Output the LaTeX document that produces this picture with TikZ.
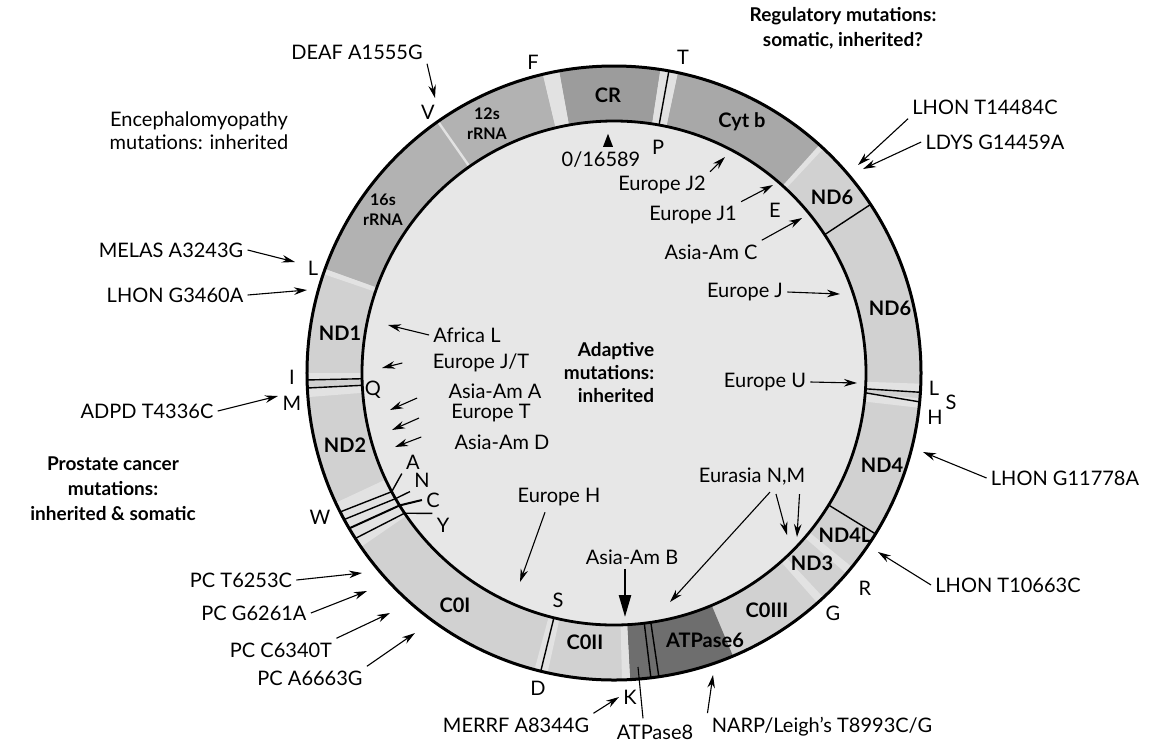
\documentclass[tikz,border=0pt]{standalone}
\usepackage{fontspec}
\setmainfont{Lato}
\usetikzlibrary{arrows.meta}

\definecolor{discgray}{gray}{0.905}
\definecolor{genegray}{gray}{0.82}
\definecolor{rnagray}{gray}{0.70}
\definecolor{crgray}{gray}{0.61}
\definecolor{cytgray}{gray}{0.66}
\definecolor{atpgray}{gray}{0.43}
\definecolor{trnagray}{gray}{0.885}

\newcommand{\ringin}{252}
\newcommand{\ringout}{307}
% one band of the ring, from angle #1 to angle #2
\newcommand{\genearc}[3]{%
  \fill[#3] (#1:\ringin) arc[start angle=#1,end angle=#2,radius=\ringin]
    -- (#2:\ringout) arc[start angle=#2,end angle=#1,radius=\ringout] -- cycle;}

\begin{document}
\begin{tikzpicture}[x=0.5pt,y=0.5pt,
    every node/.style={inner sep=2pt,font=\fontsize{10}{11.5}\selectfont},
    gene/.style={font=\bfseries\fontsize{10}{11.5}\selectfont},
    rrna/.style={font=\bfseries\fontsize{8}{10}\selectfont,align=center},
    region/.style={font=\bfseries\fontsize{9.5}{12.5}\selectfont,align=center},
    mut/.style={-{Stealth[length=6.5pt,width=3.8pt]},line width=0.55pt},
    bigmut/.style={-{Triangle[length=11pt,width=6pt]},line width=1.2pt},
    sep/.style={line width=0.7pt}]
  \useasboundingbox (-614,-368) rectangle (540,373);

  % the ring
  \fill[discgray] (0,0) circle[radius=\ringin];
  \genearc{0}{360}{genegray}
  \foreach \a/\b/\c in {47.5/78/cytgray, 81.3/100.3/crgray, 103.4/160.2/rnagray,
      273/292.8/atpgray}
    {\genearc{\a}{\b}{\c}}
  % tRNA gaps
  \foreach \a/\b in {47/48, 78/81.3, 100.3/103.4, 160.2/161.2, 180/181.3, 182.8/184.5,
      205/214.5, 255/257.5, 271.5/273, 311.5/313, 319.2/320.8, 353.5/355.3, 356.4/358}
    {\genearc{\a}{\b}{trnagray}}
  \draw[trnagray,line width=1.2pt] (125:\ringin) -- (125:\ringout);
  \foreach \a in {79.7, 181.3, 182.8, 256.2, 276.9, 278.4, 328.4, 33.3, 356.4}
    {\draw[sep] (\a:\ringin) -- (\a:\ringout);}
  \draw[sep] (355.5:\ringin) -- (354.6:\ringout);
  \draw[line width=1.4pt] (0,0) circle[radius=\ringin];
  \draw[line width=1.5pt] (0,0) circle[radius=\ringout];

  % genes
  \node[gene] (cr) at (-6,278) {CR};
  \node[rrna] (rrnaxii) at (-127,249) {12s\\rRNA};
  \node[rrna] (rrnaxvi) at (-231,163) {16s\\rRNA};
  \node[gene] (ndi) at (-274,40) {ND1};
  \node[gene] (ndii) at (-269,-72) {ND2};
  \node[gene] (coi) at (-159,-232) {C0I};
  \node[gene] (coii) at (-29,-269) {C0II};
  \node[gene] (atpvi) at (91,-267) {ATPase6};
  \node[gene] (coiii) at (153,-237) {C0III};
  \node[gene] (ndiii) at (198,-190) {ND3};
  \node[gene] (ndivl) at (231,-162) {ND4L};
  \node[gene] (ndiv) at (268,-92) {ND4};
  \node[gene] (ndv) at (276,65) {ND6};
  \node[gene] (ndvi) at (218,176) {ND6};
  \node[gene] (cytb) at (128,251) {Cyt b};

  % tRNA letters
  \node (trf) at (-81,311) {F};
  \node (trt) at (69,316) {T};
  \node (trv) at (-186,261) {V};
  \node (trp) at (44,226) {P};
  \node (trli) at (-301,105) {L};
  \node (tri) at (-322,-4) {I};
  \node (trm) at (-322,-30) {M};
  \node (trq) at (-241,-17) {Q};
  \node (trw) at (-294,-144) {W};
  \node (tra) at (-201,-89) {A};
  \node (trn) at (-192,-107) {N};
  \node (trc) at (-181,-127) {C};
  \node (try) at (-171,-152) {Y};
  \node (trsi) at (-56,-227) {S};
  \node (trd) at (-76,-315) {D};
  \node (trk) at (16,-324) {K};
  \node (trg) at (219,-240) {G};
  \node (trr) at (251,-215) {R};
  \node (trh) at (321,-44) {H};
  \node (trsii) at (337,-29) {S};
  \node (trlii) at (320,-15) {L};
  \node (tre) at (161,163) {E};

  \draw[sep] (206.9:\ringout) -- (208.1:\ringin) -- (tra.south west);
  \draw[sep] (208.5:\ringout) -- (209.9:\ringin) -- (trn.south west);
  \draw[line width=1pt] (210.4:\ringout) -- (211.7:\ringin) -- (trc.west);
  \draw[sep] (212.6:\ringout) -- (213.8:\ringin) -- (try.north west);

  % origin
  \node (zero) at (-13,213) {0/16589};
  \fill (zero.north) ++(2,1) -- ++(10,0) -- ++(-5,13) -- cycle;

  % region headings
  \node[region] (regul) at (229,345) {Regulatory mutations:\\somatic, inherited?};
  \node[align=center] (enceph) at (-415,242) {Encephalomyopathy\\mutations: inherited};
  \node[region] (prost) at (-501,-116) {Prostate cancer\\mutations:\\inherited \& somatic};
  \node[region,font=\bfseries\fontsize{9.5}{11.5}\selectfont,align=right] (adapt) at (-5,0)
    {Adaptive\\mutations:\\inherited};

  % disease mutations outside
  \node (deaf) at (-257,321) {DEAF A1555G};
  \node (lhoni) at (371,266) {LHON T14484C};
  \node (ldys) at (381,231) {LDYS G14459A};
  \node (lhonii) at (451,-105) {LHON G11778A};
  \node (lhoniii) at (394,-212) {LHON T10663C};
  \node (narp) at (208,-354) {NARP/Leigh's T8993C/G};
  \node (merrf) at (-98,-352) {MERRF A8344G};
  \node (atpviii) at (41,-359) {ATPase8};
  \node (pci) at (-373,-207) {PC T6253C};
  \node (pcii) at (-360,-240) {PC G6261A};
  \node (pciii) at (-333,-277) {PC C6340T};
  \node (pciv) at (-304,-305) {PC A6663G};
  \node (adpd) at (-467,-38) {ADPD T4336C};
  \node (lhoniv) at (-439,78) {LHON G3460A};
  \node (melas) at (-443,123) {MELAS A3243G};

  \coordinate (deafpt) at (-179,275);
  \coordinate (lhonipt) at (244,208);
  \coordinate (ldyspt) at (249,204);
  \coordinate (lhoniipt) at (309,-79);
  \coordinate (lhoniiipt) at (264,-179);
  \coordinate (narppt) at (99,-302);
  \coordinate (atpviiipt) at (24,-294);
  \coordinate (pcipt) at (-252,-200);
  \coordinate (pciipt) at (-247,-218);
  \coordinate (pciiipt) at (-224,-240);
  \coordinate (pcivpt) at (-199,-260);
  \coordinate (adpdpt) at (-336,-23);
  \coordinate (lhonivpt) at (-307,83);
  \coordinate (melaspt) at (-319,111);

  \draw[mut] (deaf.south east) -- (deafpt);
  \draw[mut] (lhoni.south west) -- (lhonipt);
  \draw[mut] (ldys.west) -- (ldyspt);
  \draw[mut] (lhonii.west) -- (lhoniipt);
  \draw[mut] (lhoniii.west) -- (lhoniiipt);
  \draw[mut] (narp.north west) -- (narppt);
  \draw[mut] (merrf.north east) -- (trk.west);
  \draw[line width=0.55pt] (atpviii.north) ++(-12,2) -- (atpviiipt);
  \draw[mut] (pci.east) -- (pcipt);
  \draw[mut] (pcii.east) -- (pciipt);
  \draw[mut] (pciii.north east) -- (pciiipt);
  \draw[mut] (pciv.north east) -- (pcivpt);
  \draw[mut] (adpd.east) -- (adpdpt);
  \draw[mut] (lhoniv.east) -- (lhonivpt);
  \draw[mut] (melas.east) -- (melaspt);

  % haplogroup mutations inside
  \node (eurjii) at (48,188) {Europe J2};
  \node (eurji) at (79,158) {Europe J1};
  \node (asiac) at (97,121) {Asia-Am C};
  \node (eurj) at (131,81) {Europe J};
  \node (euru) at (151,-9) {Europe U};
  \node (eurasia) at (138,-104) {Eurasia N,M};
  \node (asiab) at (18,-184) {Asia-Am B};
  \node (eurh) at (-55,-124) {Europe H};
  \node (afrl) at (-147,38) {Africa L};
  \node (eurjt) at (-133,10) {Europe J/T};
  \node (asiaa) at (-119,-18) {Asia-Am A};
  \node (eurt) at (-123,-40) {Europe T};
  \node (asiad) at (-112,-69) {Asia-Am D};

  \coordinate (eurjiipt) at (111,216);
  \coordinate (eurjipt) at (159,188);
  \coordinate (asiacpt) at (188,155);
  \coordinate (eurjpt) at (226,79);
  \coordinate (eurupt) at (243,-10);
  \coordinate (atpvipt) at (56,-229);
  \coordinate (ndiiipt) at (173,-162);
  \coordinate (ndivlpt) at (183,-164);
  \coordinate (asiabpt) at (11,-244);
  \coordinate (eurhpt) at (-94,-209);
  \coordinate (afrlpt) at (-226,48);
  \coordinate (eurjtpt) at (-232,5);
  \coordinate (asiaapt) at (-224,-37);
  \coordinate (eurtpt) at (-222,-57);
  \coordinate (asiadpt) at (-219,-74);

  \draw[mut] (eurjii.north east) -- (eurjiipt);
  \draw[mut] (eurji.north east) -- (eurjipt);
  \draw[mut] (asiac.north east) -- (asiacpt);
  \draw[mut] (eurj.east) -- (eurjpt);
  \draw[mut] (euru.east) -- (eurupt);
  \draw[mut] (eurasia.south) ++(18,-2) -- (atpvipt);
  \draw[mut] (eurasia.south) ++(24,-4) -- (ndiiipt);
  \draw[mut] (eurasia.south east) ++(-10,-4) -- (ndivlpt);
  \draw[bigmut] (asiab.south) ++(-7,0) -- (asiabpt);
  \draw[mut] (eurh.south) ++(-14,-2) -- (eurhpt);
  \draw[mut] (afrl.west) -- (afrlpt);
  \draw[mut] (eurjt.west) ++(-26,0) -- (eurjtpt);
  \draw[mut] (asiaa.west) ++(-27,-7) -- (asiaapt);
  \draw[mut] (eurt.west) ++(-28,-5) -- (eurtpt);
  \draw[mut] (asiad.west) ++(-29,5) -- (asiadpt);
\end{tikzpicture}
\end{document}
